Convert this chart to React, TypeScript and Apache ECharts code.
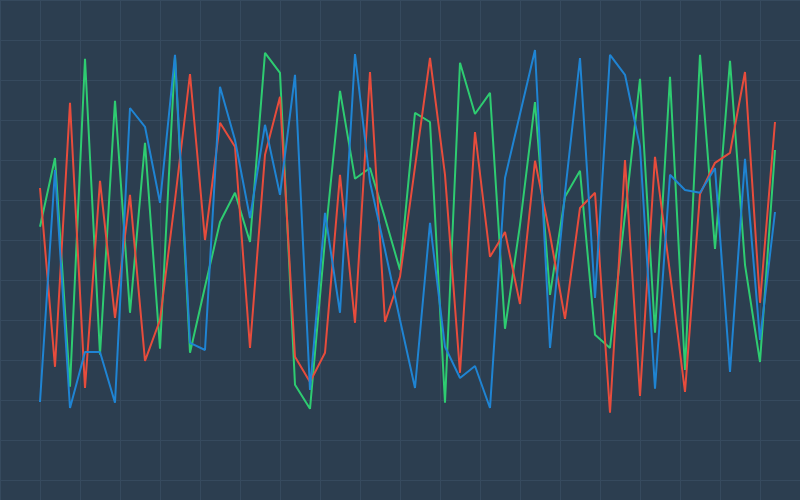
import React, { useEffect, useRef } from "react";
import * as echarts from "echarts";

const categories: string[] = Array.from({ length: 50 }, (_, i) => String(i + 1));

const blueValues: number[] = [
  9.5, 67.5, 8, 22, 22, 9.3, 83, 78.3, 59.3, 96.3,
  24.3, 22.5, 88.3, 75, 55.5, 78.8, 61.3, 91.3, 12.5, 56.8,
  31.8, 96.5, 64.5, 47.5, 30, 13, 54.3, 23.3, 15.5, 18.5,
  8, 65.5, 81.5, 97.5, 23, 61.8, 95.5, 35.5, 96.3, 91.3,
  73.3, 12.8, 66.3, 62.5, 61.8, 68, 17, 70.3, 25, 57,
];

const greenValues: number[] = [
  53.3, 70.5, 13.3, 95.3, 21.3, 84.8, 31.8, 74.3, 22.8, 95.8,
  21.8, 38.3, 54.5, 61.8, 49.5, 96.8, 91.8, 13.8, 7.8, 50,
  87.3, 65.3, 68, 55.5, 42.5, 81.8, 79.5, 9.3, 94.3, 81.5,
  86.8, 27.8, 53.8, 84.5, 36.3, 60.8, 67.3, 26.3, 23, 56.3,
  90.3, 26.8, 90.8, 17.5, 96.3, 47.8, 94.8, 43.8, 19.5, 72.5,
];

const redValues: number[] = [
  63, 18.3, 84.3, 13, 64.8, 30.5, 61.3, 19.8, 30, 60,
  91.5, 50, 79.3, 73.3, 23, 71.3, 85.8, 20.8, 14.5, 21.8,
  66.3, 29.3, 92, 29.5, 40.8, 68.3, 95.5, 66.3, 16.8, 77,
  45.8, 52, 34, 69.8, 51.3, 30.3, 58, 61.8, 6.8, 70,
  11, 70.8, 41.8, 12, 61.5, 69.3, 71.8, 92, 34.3, 79.5,
];

const hidden = {
  axisLine: { show: false },
  axisTick: { show: false },
  axisLabel: { show: false },
};

export default function App() {
  const ref = useRef<HTMLDivElement>(null);

  useEffect(() => {
    if (!ref.current) return;
    const chart = echarts.init(ref.current, undefined, { renderer: "svg" });
    const lineSeries = (name: string, data: number[], color: string) => ({
      name,
      type: "line",
      xAxisIndex: 1,
      yAxisIndex: 1,
      data,
      showSymbol: false,
      symbol: "none",
      lineStyle: { color, width: 2 },
      itemStyle: { color },
    });
    chart.setOption({
      animation: false,
      backgroundColor: "#2c3e50",
      grid: [
        { left: 0, right: 0, top: 0, bottom: 0 },
        { left: 40, right: 25, top: 40, bottom: 60 },
      ],
      xAxis: [
        {
          type: "value",
          gridIndex: 0,
          min: 0,
          max: 800,
          interval: 40,
          ...hidden,
          splitLine: { show: true, lineStyle: { color: "#364a5e", width: 1 } },
        },
        {
          type: "category",
          gridIndex: 1,
          data: categories,
          boundaryGap: false,
          ...hidden,
          splitLine: { show: false },
        },
      ],
      yAxis: [
        {
          type: "value",
          gridIndex: 0,
          min: 0,
          max: 500,
          interval: 40,
          inverse: true,
          ...hidden,
          splitLine: { show: true, lineStyle: { color: "#364a5e", width: 1 } },
        },
        {
          type: "value",
          gridIndex: 1,
          min: 0,
          max: 100,
          ...hidden,
          splitLine: { show: false },
        },
      ],
      series: [
        lineSeries("Green", greenValues, "#2ecc71"),
        lineSeries("Red", redValues, "#e74c3c"),
        lineSeries("Blue", blueValues, "#1f84d3"),
      ],
    });
    return () => chart.dispose();
  }, []);

  return (
    <div
      ref={ref}
      style={{ position: "fixed", left: 0, top: 0, width: 800, height: 500 }}
    />
  );
}
